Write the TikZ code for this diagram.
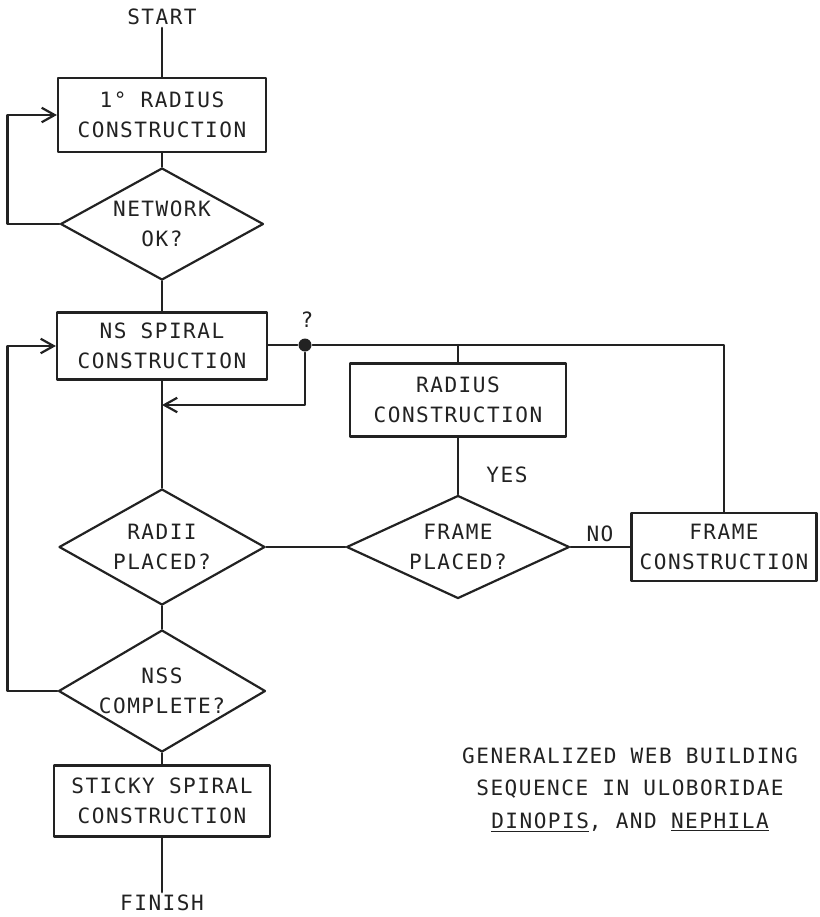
\documentclass[tikz,border=0pt]{standalone}
\usepackage{fontspec}
\usepackage{tikz}
\usetikzlibrary{arrows.meta,positioning,shapes.geometric}
\newfontfamily\wbfont[LetterSpace=7]{DejaVu Sans Mono}
\definecolor{wbInk}{HTML}{222222}
\tikzset{
  wb diagram/.style={font=\wbfont\fontsize{12}{17}\selectfont, text=wbInk,
    draw=wbInk, line width=1.25pt, line cap=round, line join=round},
  wb box/.style={draw=wbInk, rectangle, align=center, inner sep=2pt},
  wb decision/.style={draw=wbInk, diamond, aspect=1.7, align=center, inner sep=0pt},
  wb arrow/.style={-{Straight Barb[length=2.6mm,width=2.9mm,line width=1.25pt]}},
  wb label/.style={align=center, inner sep=1pt},
  wb dot/.style={circle, fill=wbInk, inner sep=0pt, minimum size=2.6mm}
}
\begin{document}
\begin{tikzpicture}[wb diagram, x=0.02cm, y=-0.02cm]
\useasboundingbox (0,0) rectangle (820,917);
% main column
\node[wb label] (start) at (162,17) {START};
\node[wb box, minimum width=4.16cm, minimum height=1.48cm] (primary) at (162,115) {1° RADIUS\\CONSTRUCTION};
\node[wb decision, minimum width=4.06cm, minimum height=2.24cm] (netok) at (162,224) {NETWORK\\OK?};
\node[wb box, minimum width=4.2cm, minimum height=1.34cm] (nsspiral) at (162,346) {NS SPIRAL\\CONSTRUCTION};
\node[wb decision, minimum width=4.12cm, minimum height=2.32cm] (radii) at (162,547) {RADII\\PLACED?};
\node[wb decision, minimum width=4.14cm, minimum height=2.44cm] (nss) at (162,691) {NSS\\COMPLETE?};
\node[wb box, minimum width=4.32cm, minimum height=1.42cm] (sticky) at (162,801) {STICKY SPIRAL\\CONSTRUCTION};
\node[wb label] (finish) at (162,903) {FINISH};
% side branch
\node[wb dot] (junction) at (305,345) {};
\node[wb label] (query) at (307,320) {?};
\node[wb box, minimum width=4.32cm, minimum height=1.46cm] (radius) at (458,400) {RADIUS\\CONSTRUCTION};
\node[wb decision, minimum width=4.46cm, minimum height=2.06cm] (fplaced) at (458,547) {FRAME\\PLACED?};
\node[wb box, minimum width=3.7cm, minimum height=1.36cm] (frame) at (724,547) {FRAME\\CONSTRUCTION};
\node[wb label] (yes) at (507,475) {YES};
\node[wb label] (no) at (600,534) {NO};
% caption
\node[wb label, font=\wbfont\fontsize{12}{18.4}\selectfont] (caption) at (630,790)
  {GENERALIZED WEB BUILDING\\SEQUENCE IN ULOBORIDAE\\\underline{DINOPIS}, AND \underline{NEPHILA}};
\coordinate (topright) at (frame.north |- junction);
\coordinate (reentry) at (nsspiral.south |- 0,405);
% connectors
\draw (start) -- (primary);
\draw (primary) -- (netok);
\draw (netok) -- (nsspiral);
\draw[wb arrow] (netok.west) -- ++(-52,0) |- (primary.west);
\draw (nsspiral.east |- junction) -- (junction) -- (topright) -- (frame.north);
\draw (radius.north |- junction) -- (radius.north);
\draw[wb arrow] (junction) |- (reentry);
\draw (nsspiral.south) -- (radii.north);
\draw (radii.east) -- (fplaced.west);
\draw (radius.south) -- (fplaced.north);
\draw (fplaced.east) -- (frame.west);
\draw (radii.south) -- (nss.north);
\draw[wb arrow] (nss.west) -- ++(-50,0) |- (nsspiral.west);
\draw (nss.south) -- (sticky.north);
\draw (sticky.south) -- (finish.north);
\end{tikzpicture}
\end{document}
